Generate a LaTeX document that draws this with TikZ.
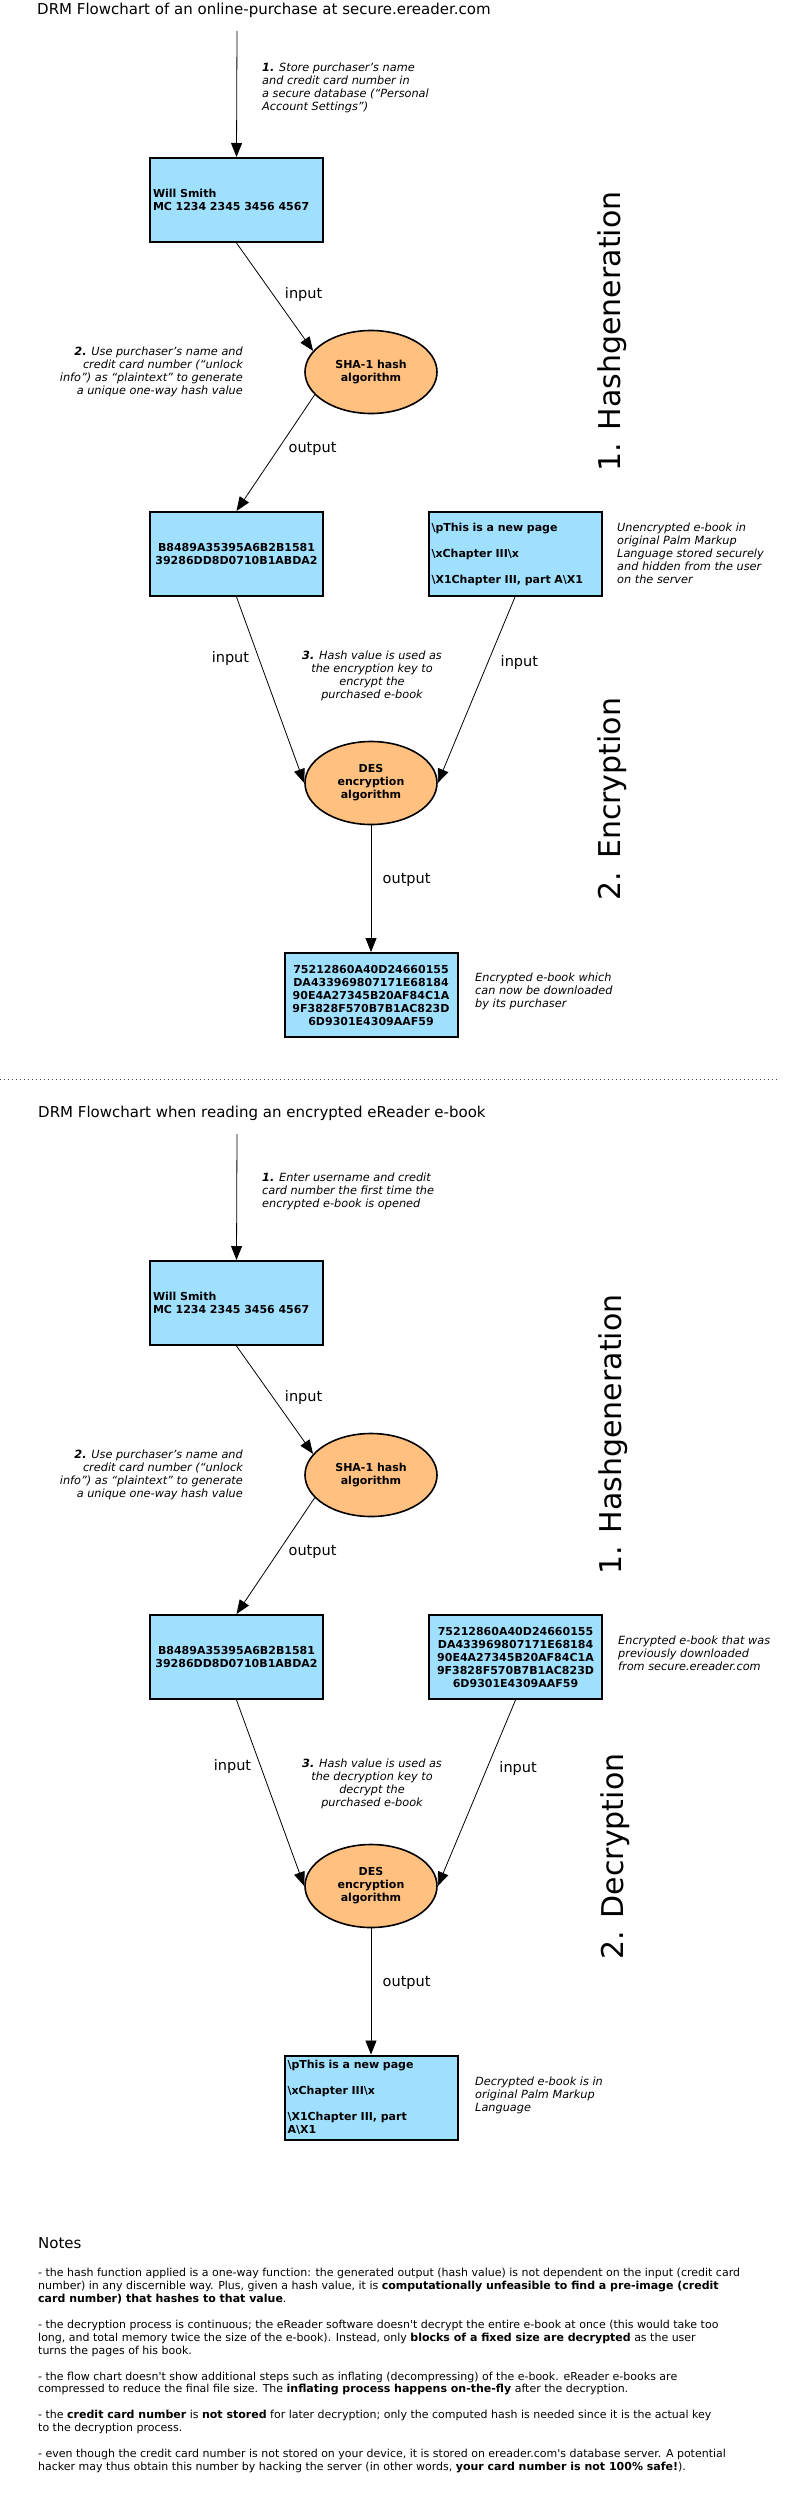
\documentclass[tikz,border=0pt]{standalone}
\usepackage{fontspec}
\setmainfont{DejaVu Sans}[ItalicFont={DejaVu Sans Oblique},BoldItalicFont={DejaVu Sans Bold Oblique}]
\usetikzlibrary{arrows.meta,shapes.geometric}
\definecolor{boxblue}{RGB}{160,224,255}
\definecolor{algoorange}{RGB}{255,192,128}
\begin{document}
\begin{tikzpicture}[x=1pt,y=-1pt,
    databox/.style={draw,line width=2pt,fill=boxblue,minimum width=173pt,minimum height=84pt,
      text width=167pt,inner xsep=3pt,font=\fontsize{11}{13}\selectfont\bfseries},
    algo/.style={ellipse,draw,line width=1.6pt,fill=algoorange,minimum width=132pt,minimum height=83pt,
      align=center,font=\fontsize{11}{13}\selectfont\bfseries},
    remark/.style={inner sep=0pt,font=\fontsize{11.3}{13}\selectfont\itshape},
    flow/.style={-{Triangle[length=14pt,width=11pt]},line width=0.8pt},
    flowtag/.style={font=\fontsize{14.5}{16}\selectfont},
    phase/.style={rotate=90,anchor=base,inner sep=0pt,font=\fontsize{30}{34}\selectfont},
    heading/.style={anchor=west,inner sep=0pt,font=\fontsize{15}{18}\selectfont},
    notebody/.style={anchor=north west,align=left,inner sep=0pt,font=\fontsize{11}{12.93}\selectfont}]
\useasboundingbox (0,0) rectangle (801,2507);

\node[heading] (title1) at (37,10) {DRM Flowchart of an online-purchase at secure.ereader.com};
\coordinate (feed1) at (237,31);
\node[databox,align=left] (card1) at (236.5,200) {Will Smith\\MC 1234 2345 3456 4567};
\node[algo] (sha1) at (371,372) {SHA-1 hash\\algorithm};
\node[databox,align=center] (hash1) at (236.5,554) {B8489A35395A6B2B1581\\39286DD8D0710B1ABDA2};
\node[databox,align=left] (plain1) at (515,554) {\textbackslash pThis is a new page\\[13pt]\textbackslash xChapter III\textbackslash x\\[13pt]\textbackslash X1Chapter III, part A\textbackslash X1};
\node[algo] (des1) at (371,783) {DES\\encryption\\algorithm};
\node[databox,align=center] (cipher1) at (371,995) {75212860A40D24660155\\DA433969807171E68184\\90E4A27345B20AF84C1A\\9F3828F570B7B1AC823D\\6D9301E4309AAF59};

\draw[flow] (feed1) -- (card1.north);
\draw[flow] (card1.south) -- (sha1.160) node[flowtag,right=8pt,pos=0.48] {input};
\draw[flow] (sha1.202) -- (hash1.north) node[flowtag,right=7pt,pos=0.47] {output};
\draw[flow] (hash1.south) -- (des1.west) node[flowtag,left=6pt,pos=0.33] {input};
\draw[flow] (plain1.south) -- (des1.east) node[flowtag,right=9pt,pos=0.35] {input};
\draw[flow] (des1.south) -- (cipher1.north) node[flowtag,right=8pt,pos=0.43] {output};

\node[remark,anchor=north west,align=left] (memo1) at (262,63) {\textbf{1.} Store purchaser's name\\and credit card number in\\a secure database (“Personal\\Account Settings”)};
\node[remark,anchor=north east,align=right] (memo2) at (243,347) {\textbf{2.} Use purchaser's name and\\credit card number (“unlock\\info”) as “plaintext” to generate\\a unique one-way hash value};
\node[remark,anchor=north,align=center] (memo3) at (372,651) {\textbf{3.} Hash value is used as\\the encryption key to\\encrypt the\\purchased e-book};
\node[remark,anchor=north west,align=left] (memo4) at (617,523) {Unencrypted e-book in\\original Palm Markup\\Language stored securely\\and hidden from the user\\on the server};
\node[remark,anchor=north west,align=left] (memo5) at (475,973) {Encrypted e-book which\\can now be downloaded\\by its purchaser};

\node[phase] (stage1) at (620,331.5) {1. Hashgeneration};
\node[phase] (stage2) at (620,799) {2. Encryption};

\draw[line width=1pt,dash pattern=on 1pt off 3pt,black!75] (0,1079) -- (780,1079);

\node[heading] (title2) at (38,1113) {DRM Flowchart when reading an encrypted eReader e-book};
\coordinate (feed2) at (237,1134);
\node[databox,align=left] (card2) at (236.5,1303) {Will Smith\\MC 1234 2345 3456 4567};
\node[algo] (sha2) at (371,1475) {SHA-1 hash\\algorithm};
\node[databox,align=center] (hash2) at (236.5,1657) {B8489A35395A6B2B1581\\39286DD8D0710B1ABDA2};
\node[databox,align=center] (cipher2) at (515.5,1657) {75212860A40D24660155\\DA433969807171E68184\\90E4A27345B20AF84C1A\\9F3828F570B7B1AC823D\\6D9301E4309AAF59};
\node[algo] (des2) at (371,1886) {DES\\encryption\\algorithm};
\node[databox,align=left] (plain2) at (371,2097.5) {\textbackslash pThis is a new page\\[13pt]\textbackslash xChapter III\textbackslash x\\[13pt]\textbackslash X1Chapter III, part\\A\textbackslash X1};

\draw[flow] (feed2) -- (card2.north);
\draw[flow] (card2.south) -- (sha2.160) node[flowtag,right=8pt,pos=0.48] {input};
\draw[flow] (sha2.202) -- (hash2.north) node[flowtag,right=7pt,pos=0.47] {output};
\draw[flow] (hash2.south) -- (des2.west) node[flowtag,left=6pt,pos=0.36] {input};
\draw[flow] (cipher2.south) -- (des2.east) node[flowtag,right=9pt,pos=0.37] {input};
\draw[flow] (des2.south) -- (plain2.north) node[flowtag,right=8pt,pos=0.43] {output};

\node[remark,anchor=north west,align=left] (memo6) at (262,1173) {\textbf{1.} Enter username and credit\\card number the first time the\\encrypted e-book is opened};
\node[remark,anchor=north east,align=right] (memo7) at (243,1450) {\textbf{2.} Use purchaser's name and\\credit card number (“unlock\\info”) as “plaintext” to generate\\a unique one-way hash value};
\node[remark,anchor=north,align=center] (memo8) at (372,1759) {\textbf{3.} Hash value is used as\\the decryption key to\\decrypt the\\purchased e-book};
\node[remark,anchor=north west,align=left] (memo9) at (618,1636) {Encrypted e-book that was\\previously downloaded\\from secure.ereader.com};
\node[remark,anchor=north west,align=left] (memo10) at (475,2077) {Decrypted e-book is in\\original Palm Markup\\Language};

\node[phase] (stage3) at (621,1434.5) {1. Hashgeneration};
\node[phase] (stage4) at (623,1856.5) {2. Decryption};

\node[heading] (notes) at (38,2243) {Notes};
\node[notebody] (remarks) at (38,2268) {%
- the hash function applied is a one-way function: the generated output (hash value) is not dependent on the input (credit card\\
number) in any discernible way. Plus, given a hash value, it is \textbf{computationally unfeasible to find a pre-image (credit}\\
\textbf{card number) that hashes to that value}.\\[12.93pt]
- the decryption process is continuous; the eReader software doesn\textquotesingle t decrypt the entire e-book at once (this would take too\\
long, and total memory twice the size of the e-book). Instead, only \textbf{blocks of a fixed size are decrypted} as the user\\
turns the pages of his book.\\[12.93pt]
- the flow chart doesn\textquotesingle t show additional steps such as inflating (decompressing) of the e-book. eReader e-books are\\
compressed to reduce the final file size. The \textbf{inflating process happens on-the-fly} after the decryption.\\[12.93pt]
- the \textbf{credit card number} is \textbf{not stored} for later decryption; only the computed hash is needed since it is the actual key\\
to the decryption process.\\[12.93pt]
- even though the credit card number is not stored on your device, it is stored on ereader.com\textquotesingle s database server. A potential\\
hacker may thus obtain this number by hacking the server (in other words, \textbf{your card number is not 100\% safe!}).};
\end{tikzpicture}
\end{document}
